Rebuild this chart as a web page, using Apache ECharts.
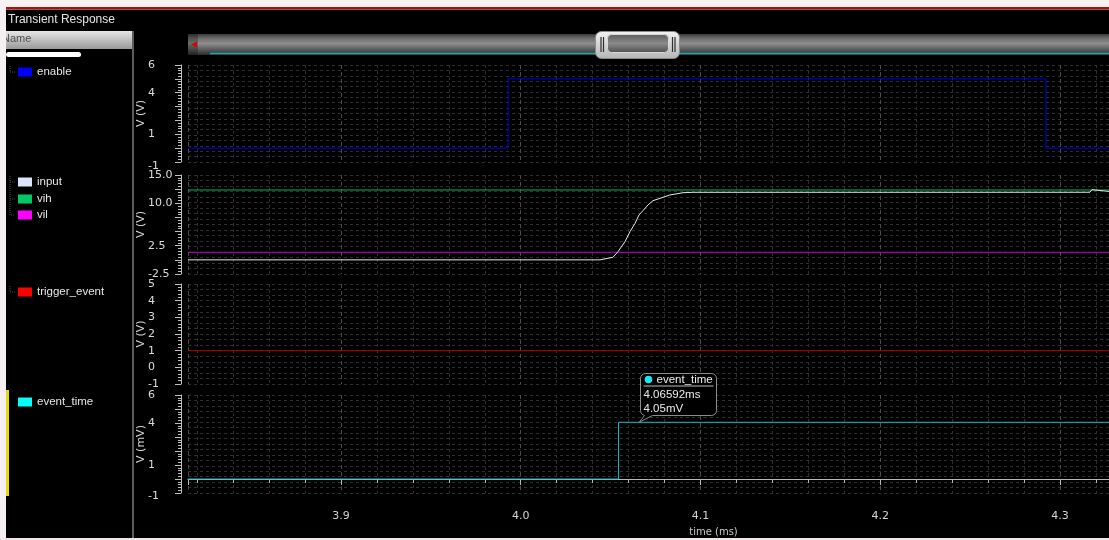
<!DOCTYPE html>
<html>
<head>
<meta charset="utf-8">
<script src="https://cdn.jsdelivr.net/npm/echarts@6/dist/echarts.min.js"></script>
<style>
  html, body { margin: 0; padding: 0; background: #000; }
  #chart { width: 1109px; height: 540px; }
</style>
</head>
<body>
<div id="chart"></div>
<script>
// Visible time window (ms)
const timeRange = [3.8149, 4.3273];

// enable (V)
const enableTime = [3.8149, 3.9929, 3.9929, 4.2922, 4.2922, 4.3273];
const enableVolt = [0, 0, 5, 5, 0, 0];

// input (V)
const inputTime = [3.8149, 4.0441, 4.0513, 4.0541, 4.0580, 4.0608, 4.0636, 4.0658, 4.0680, 4.0691,
                   4.0708, 4.0736, 4.0775, 4.0830, 4.0903, 4.0958, 4.3167, 4.3178, 4.3189, 4.3273];
const inputVolt = [0, 0, 0.45, 1.44, 3.21, 4.98, 6.46, 7.93, 8.69, 8.34,
                   9.70, 10.46, 10.88, 11.47, 11.87, 11.94, 11.95, 12.40, 12.10, 12.10];

// threshold levels (V)
const vihLevel = 12.35;
const vilLevel = 1.34;

// trigger_event (V)
const triggerLevel = 1;

// event_time (mV)
const eventTime = [3.8149, 4.0544, 4.0544, 4.3273];
const eventVolt = [0, 0, 4.05, 4.05];

// marker read-out on event_time
const markerTime = 4.06592;
const markerVolt = 4.05;

// strip axes
const stripRanges = [[-1, 6], [-2.5, 15], [-1, 5], [-1, 6]];
const stripSteps = [1, 2.5, 1, 1];
const stripTickLabels = [[6, 4, 1, -1], [15, 10, 2.5, -2.5], [5, 4, 3, 2, 1, 0, -1], [6, 4, 1, -1]];
const stripUnits = ['V (V)', 'V (V)', 'V (V)', 'V (mV)'];

// signal names and colours
const legendNames = ['enable', 'input', 'vih', 'vil', 'trigger_event', 'event_time'];
const legendSwatch = ['#0000ff', '#dce6fa', '#00c864', '#ff00ff', '#ff0000', '#00ffff'];
const traceColors = ['#0000e6', '#e4e8ee', '#00b85a', '#c000c0', '#b00000', '#14bcc4'];

const stripTop = [65, 175, 284, 395];
const stripHeight = [97, 99, 100, 98];
const lowLabelDrop = [8, 0, 0, 6];
const legendY = [72, 182, 199, 215, 292, 402];

const tickFont = 'DejaVu Sans';

function pairs(xs, ys) { return xs.map((x, i) => [x, ys[i]]); }
function flat(level) { return [[timeRange[0], level], [timeRange[1], level]]; }

const grids = stripTop.map((t, i) => ({
  left: 188, right: 0, top: t, height: stripHeight[i], outerBoundsMode: 'none'
}));

const xAxes = grids.map((gr, i) => {
  const bottom = i === 3;
  return {
    type: 'value', gridIndex: i, min: timeRange[0], max: timeRange[1], splitNumber: 5,
    offset: bottom ? 7 : 0,
    axisLine: { show: bottom, lineStyle: { color: '#b8b8b8', width: 1 } },
    axisTick: { show: bottom, length: 6, lineStyle: { color: '#b8b8b8' } },
    minorTick: { show: bottom, splitNumber: 5, length: 4, lineStyle: { color: '#b8b8b8' } },
    axisLabel: {
      show: bottom, margin: 11, color: '#d4d4d4', fontFamily: tickFont, fontSize: 11,
      formatter: v => Math.abs(v * 10 - Math.round(v * 10)) < 1e-6 ? v.toFixed(1) : ''
    },
    splitLine: { show: true, lineStyle: { color: '#4c4c4c', width: 1, type: [4, 3] } },
    minorSplitLine: { show: true, lineStyle: { color: '#2e2e2e', width: 1, type: [3, 3] } },
    name: bottom ? 'time (ms)' : '', nameLocation: 'middle', nameGap: 27, nameMoveOverlap: false,
    nameTextStyle: { color: '#c8c8c8', fontFamily: tickFont, fontSize: 10, padding: [0, 0, 0, 130] }
  };
});

const rulerAxes = stripRanges.map((r, i) => ({
  type: 'value', gridIndex: i, min: r[0], max: r[1], interval: stripSteps[i], offset: 7,
  axisLine: { show: true, lineStyle: { color: '#c0c0c0', width: 1 } },
  axisTick: { show: true, length: 6, lineStyle: { color: '#c0c0c0' } },
  minorTick: { show: true, splitNumber: 5, length: 3, lineStyle: { color: '#c0c0c0' } },
  axisLabel: {
    align: 'left', margin: 33, color: '#dadada', fontFamily: tickFont, fontSize: 11,
    formatter: v => {
      if (!stripTickLabels[i].some(l => Math.abs(l - v) < 1e-9)) return '';
      const s = i === 1 ? v.toFixed(1) : String(v);
      return Math.abs(v - r[0]) < 1e-9 && lowLabelDrop[i] ? '{low|' + s + '}' : s;
    },
    rich: { low: { padding: [lowLabelDrop[i], 0, 0, 0], color: '#dadada', fontFamily: tickFont, fontSize: 11 } }
  },
  splitLine: { show: false },
  name: stripUnits[i], nameLocation: 'middle', nameGap: 34, nameMoveOverlap: false,
  nameTextStyle: { color: '#d6d6d6', fontFamily: tickFont, fontSize: 11 }
}));

// fine horizontal grid in each strip
const gridAxes = stripRanges.map((r, i) => ({
  type: 'value', gridIndex: i, min: 0, max: 18, interval: 1, position: 'left',
  axisLine: { show: false }, axisTick: { show: false }, axisLabel: { show: false },
  splitLine: { show: true, lineStyle: { color: '#2e2e2e', width: 1, type: [3, 3] } }
}));

function trace(name, grid, data, color) {
  return {
    name, type: 'line', xAxisIndex: grid, yAxisIndex: grid, data,
    showSymbol: false, symbol: 'none', silent: true, animation: false,
    lineStyle: { color, width: 1 }, z: 5
  };
}

const series = [
  trace('enable', 0, pairs(enableTime, enableVolt), traceColors[0]),
  trace('vih', 1, flat(vihLevel), traceColors[2]),
  trace('vil', 1, flat(vilLevel), traceColors[3]),
  trace('input', 1, pairs(inputTime, inputVolt), traceColors[1]),
  trace('trigger_event', 2, flat(triggerLevel), traceColors[4]),
  trace('event_time', 3, pairs(eventTime, eventVolt), traceColors[5])
];

const chart = echarts.init(document.getElementById('chart'), null, { renderer: 'canvas' });
chart.setOption({
  backgroundColor: '#000',
  animation: false,
  grid: grids,
  xAxis: xAxes,
  yAxis: rulerAxes.concat(gridAxes),
  series
});

// ---- side panel, scrollbar, frame and marker read-out ----
const g = [];
const vGrad = stops => new echarts.graphic.LinearGradient(0, 0, 0, 1,
  stops.map(s => ({ offset: s[0], color: s[1] })));
const uiText = '11.5px "Liberation Sans"';

// name header
g.push({ type: 'rect', shape: { x: 6, y: 31, width: 127, height: 18 },
  style: { fill: vGrad([[0, '#e6e6e6'], [1, '#9a9a9a']]) }, z: 100 });
g.push({ type: 'text', x: 2, y: 39, style: { text: 'Name', fill: '#505050',
  font: '11px "Liberation Sans"', verticalAlign: 'middle' }, z: 101 });
g.push({ type: 'rect', shape: { x: 6, y: 52, width: 75, height: 5, r: 2.5 },
  style: { fill: '#ffffff' }, z: 100 });
g.push({ type: 'line', shape: { x1: 133, y1: 31, x2: 133, y2: 538 },
  style: { stroke: '#5c5c5c', lineWidth: 2 }, z: 100 });
g.push({ type: 'text', x: 8, y: 20, style: { text: 'Transient Response', fill: '#e4e4e4',
  font: '12px "Liberation Sans"', verticalAlign: 'middle' }, z: 100 });

// tree connectors
const treeStroke = { stroke: '#4a4a4a', lineWidth: 1, lineDash: [1, 1] };
g.push({ type: 'polyline', shape: { points: [[10, 66], [10, 72], [15, 72]] }, style: treeStroke, z: 100 });
g.push({ type: 'polyline', shape: { points: [[10, 176], [10, 215], [15, 215]] }, style: treeStroke, z: 100 });
g.push({ type: 'line', shape: { x1: 10, y1: 182, x2: 15, y2: 182 }, style: treeStroke, z: 100 });
g.push({ type: 'line', shape: { x1: 10, y1: 199, x2: 15, y2: 199 }, style: treeStroke, z: 100 });
g.push({ type: 'polyline', shape: { points: [[10, 286], [10, 292], [15, 292]] }, style: treeStroke, z: 100 });

legendNames.forEach((n, i) => {
  g.push({ type: 'rect', shape: { x: 18, y: legendY[i] - 4.5, width: 14, height: 9 },
    style: { fill: legendSwatch[i] }, z: 100 });
  g.push({ type: 'text', x: 37, y: legendY[i], style: { text: n, fill: '#e6e6e6',
    font: uiText, verticalAlign: 'middle' }, z: 100 });
});
g.push({ type: 'rect', shape: { x: 6, y: 390, width: 3, height: 106 }, style: { fill: '#e6dc00' }, z: 100 });

// scrollbar
g.push({ type: 'rect', shape: { x: 188, y: 34, width: 921, height: 21 },
  style: { fill: vGrad([[0, '#3a3a3a'], [0.2, '#6c6c6c'], [0.45, '#8e8e8e'], [0.75, '#5a5a5a'], [1, '#2c2c2c']]) }, z: 100 });
g.push({ type: 'rect', shape: { x: 188, y: 34, width: 10, height: 21 },
  style: { fill: 'rgba(0,0,0,0.25)' }, z: 101 });
g.push({ type: 'polygon', shape: { points: [[191, 44.5], [197, 41.5], [197, 47.5]] },
  style: { fill: '#e00000' }, z: 102 });
g.push({ type: 'line', shape: { x1: 210, y1: 53.5, x2: 1109, y2: 53.5 },
  style: { stroke: '#17aab2', lineWidth: 1.5 }, z: 101 });
g.push({ type: 'rect', shape: { x: 595.5, y: 31.5, width: 84, height: 27, r: 6 },
  style: { fill: vGrad([[0, '#f2f2f2'], [1, '#b4b4b4']]), stroke: '#8a8a8a', lineWidth: 1 }, z: 103 });
g.push({ type: 'rect', shape: { x: 607.5, y: 34.5, width: 61, height: 18, r: 4 },
  style: { fill: vGrad([[0, '#5c5c5c'], [0.5, '#8a8a8a'], [1, '#4c4c4c']]),
    stroke: '#d8d8d8', lineWidth: 1 }, z: 104 });
[601, 603.5, 672.5, 675].forEach(x => g.push({ type: 'line', shape: { x1: x, y1: 37, x2: x, y2: 52 },
  style: { stroke: '#303030', lineWidth: 1.2 }, z: 104 }));

// window frame
g.push({ type: 'rect', shape: { x: 0, y: 0, width: 1109, height: 7 }, style: { fill: '#f6f2f2' }, z: 110 });
g.push({ type: 'rect', shape: { x: 0, y: 0, width: 6, height: 540 }, style: { fill: '#f6f0f2' }, z: 110 });
g.push({ type: 'rect', shape: { x: 6, y: 7, width: 1103, height: 2 }, style: { fill: '#d00000' }, z: 110 });
g.push({ type: 'rect', shape: { x: 6, y: 9, width: 1103, height: 1 }, style: { fill: '#6a6a6a' }, z: 110 });
g.push({ type: 'rect', shape: { x: 0, y: 538, width: 1109, height: 2 }, style: { fill: '#f0e6e8' }, z: 110 });

// marker read-out on event_time: rounded box with a tail pointing at the marker
const p = chart.convertToPixel({ gridIndex: 3 }, [markerTime, markerVolt]);
const bx = Math.round(p[0]) + 1.5, by = Math.round(p[1]) - 48.5, bw = 76, bh = 42, rad = 5;
function corner(cx, cy, a0) {
  const pts = [];
  for (let k = 0; k <= 4; k++) {
    const a = a0 + (k / 4) * Math.PI / 2;
    pts.push([cx + rad * Math.cos(a), cy + rad * Math.sin(a)]);
  }
  return pts;
}
const bubble = [].concat(
  corner(bx + rad, by + rad, Math.PI),
  corner(bx + bw - rad, by + rad, -Math.PI / 2),
  corner(bx + bw - rad, by + bh - rad, 0),
  [[bx + 12, by + bh], [p[0], p[1]], [bx + 4, by + bh]],
  corner(bx + rad, by + bh - rad, Math.PI / 2).slice(1)
);
g.push({ type: 'polygon', z: 105, shape: { points: bubble },
  style: { fill: '#000', stroke: '#8c8c8c', lineWidth: 1 } });
g.push({ type: 'circle', shape: { cx: bx + 8, cy: by + 6, r: 3.8 }, style: { fill: '#1ee6f0' }, z: 106 });
g.push({ type: 'text', x: bx + 16, y: by + 6, z: 106,
  style: { text: 'event_time', fill: '#ececec', font: uiText, verticalAlign: 'middle' } });
g.push({ type: 'line', shape: { x1: bx + 3, y1: by + 12.5, x2: bx + bw - 3, y2: by + 12.5 },
  style: { stroke: '#bdbdbd', lineWidth: 1 }, z: 106 });
g.push({ type: 'text', x: bx + 3, y: by + 21, z: 106,
  style: { text: markerTime.toFixed(5) + 'ms', fill: '#ececec', font: uiText, verticalAlign: 'middle' } });
g.push({ type: 'text', x: bx + 3, y: by + 35, z: 106,
  style: { text: markerVolt.toFixed(2) + 'mV', fill: '#ececec', font: uiText, verticalAlign: 'middle' } });

chart.setOption({ graphic: g });
</script>
</body>
</html>
